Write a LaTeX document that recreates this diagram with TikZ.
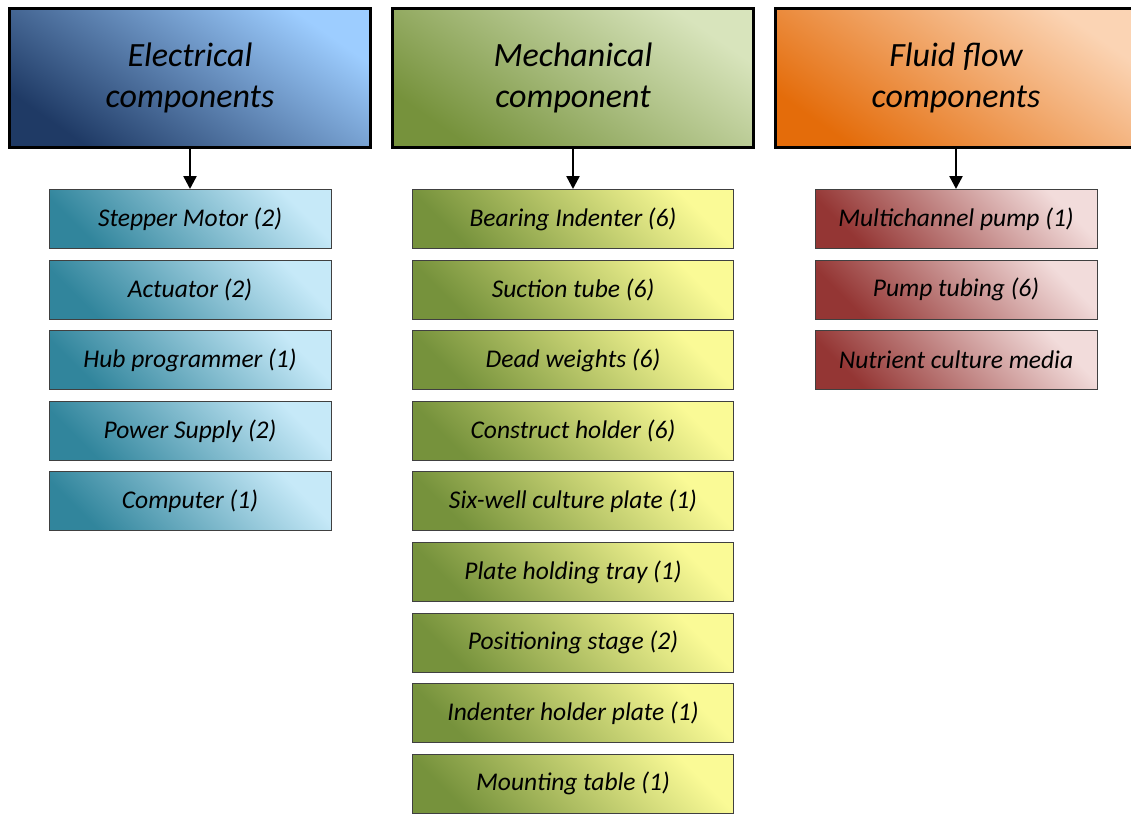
\documentclass[tikz,border=0pt]{standalone}
\usepackage{fontspec}
\setmainfont{Carlito}
\usetikzlibrary{arrows.meta, positioning}
\definecolor{elecA}{HTML}{1F3A65}\definecolor{elecB}{HTML}{7EAADE}\definecolor{elecC}{HTML}{9DCDFF}
\definecolor{mechA}{HTML}{76923C}\definecolor{mechB}{HTML}{B2C68B}\definecolor{mechC}{HTML}{D8E4BC}
\definecolor{fluidA}{HTML}{E46C0A}\definecolor{fluidB}{HTML}{F2AA70}\definecolor{fluidC}{HTML}{FBD4B4}
\definecolor{eitemA}{HTML}{31859C}\definecolor{eitemB}{HTML}{96CBDE}\definecolor{eitemC}{HTML}{C6E9F8}
\definecolor{mitemA}{HTML}{76923C}\definecolor{mitemB}{HTML}{CCDA78}\definecolor{mitemC}{HTML}{FAFA96}
\definecolor{fitemA}{HTML}{943634}\definecolor{fitemB}{HTML}{CC9290}\definecolor{fitemC}{HTML}{F2DCDB}
\tikzset{head/.style={rectangle,draw,line width=3pt,align=center,minimum width=361pt,minimum height=139pt,font=\fontsize{34}{41}\selectfont\itshape},
item/.style={rectangle,draw=black!75,line width=1pt,minimum width=282pt,minimum height=59pt,font=\fontsize{25.5}{30}\selectfont\itshape},
elechead/.style={head,left color=elecA,middle color=elecB,right color=elecC,shading angle=145},
mechhead/.style={head,left color=mechA,middle color=mechB,right color=mechC,shading angle=145},
fluidhead/.style={head,left color=fluidA,middle color=fluidB,right color=fluidC,shading angle=145},
eitem/.style={item,left color=eitemA,middle color=eitemB,right color=eitemC,shading angle=135},
mitem/.style={item,minimum width=321pt,left color=mitemA,middle color=mitemB,right color=mitemC,shading angle=135},
fitem/.style={item,left color=fitemA,middle color=fitemB,right color=fitemC,shading angle=135},
line/.style={-{Triangle[length=13pt,width=13pt]},line width=2.5pt}}

\begin{document}
\begin{tikzpicture}[node distance=10.6pt and 19pt]
\useasboundingbox (0,0) rectangle (1131pt,-816pt);
\node[elechead] (elec) at (190pt,-78pt) {Electrical\\components};
\node[mechhead, right=of elec] (mech) {Mechanical\\component};
\node[fluidhead, right=of mech] (fluid) {Fluid flow\\components};
% electrical parts
\node[eitem, below=40pt of elec] (e1) {Stepper Motor (2)};
\node[eitem, below=of e1] (e2) {Actuator (2)};
\node[eitem, below=of e2] (e3) {Hub programmer (1)};
\node[eitem, below=of e3] (e4) {Power Supply (2)};
\node[eitem, below=of e4] (e5) {Computer (1)};
% mechanical parts
\node[mitem, below=40pt of mech] (m1) {Bearing Indenter (6)};
\node[mitem, below=of m1] (m2) {Suction tube (6)};
\node[mitem, below=of m2] (m3) {Dead weights (6)};
\node[mitem, below=of m3] (m4) {Construct holder (6)};
\node[mitem, below=of m4] (m5) {Six-well culture plate (1)};
\node[mitem, below=of m5] (m6) {Plate holding tray (1)};
\node[mitem, below=of m6] (m7) {Positioning stage (2)};
\node[mitem, below=of m7] (m8) {Indenter holder plate (1)};
\node[mitem, below=of m8] (m9) {Mounting table (1)};
% fluid flow parts
\node[fitem, below=40pt of fluid] (f1) {Multichannel pump (1)};
\node[fitem, below=of f1] (f2) {Pump tubing (6)};
\node[fitem, below=of f2] (f3) {Nutrient culture media};
\draw[line] (elec) -- (e1);
\draw[line] (mech) -- (m1);
\draw[line] (fluid) -- (f1);
\end{tikzpicture}
\end{document}
